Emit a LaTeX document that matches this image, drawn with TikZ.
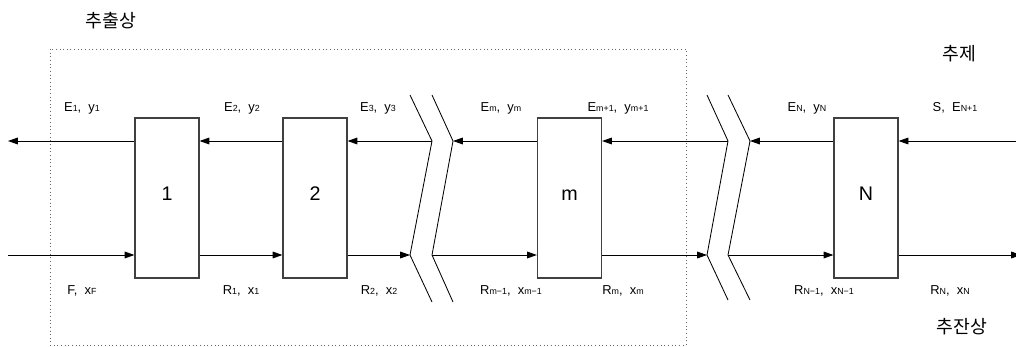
\documentclass[tikz,border=0pt]{standalone}
\usepackage{fontspec}
\setmainfont{Liberation Sans}
\newfontfamily\kr{Noto Sans CJK KR}
\usetikzlibrary{arrows.meta}
\newcommand{\ix}[1]{{\fontsize{6.3}{7}\selectfont #1}}

\begin{document}
\begin{tikzpicture}[x=0.025cm,y=-0.025cm,
    stage/.style={draw=black!75,line width=0.8pt,fill=white,minimum width=1.6cm,minimum height=4cm,inner sep=0pt,
      font=\fontsize{14}{16}\selectfont,text height=10pt,text depth=7pt},
    flow/.style={-{Triangle[length=7pt,width=4.8pt]},line width=0.6pt},
    brk/.style={line width=0.6pt},
    lbl/.style={anchor=base,inner sep=0pt,font=\fontsize{9.2}{11}\selectfont},
    phase/.style={font=\kr\fontsize{13}{15}\selectfont}]
  \useasboundingbox (0,0) rectangle (1016,347);
  \draw[black!60,dotted,line width=0.6pt] (50,49) rectangle (686,345);

  % stages
  \node[stage] (s1) at (167,198) {1};
  \node[stage] (s2) at (315,198) {2};
  \node[stage] (sm) at (569.5,198) {m};
  \node[stage] (sN) at (866,198) {N};

  % stream levels and free ends
  \coordinate (yT) at (0,141);
  \coordinate (yB) at (0,255);
  \coordinate (extr) at (8,141);
  \coordinate (feed) at (8,255);
  \coordinate (solv) at (1016,141);
  \coordinate (raff) at (1021,255);

  % break marks
  \coordinate (a1) at (410,95);  \coordinate (a2) at (432,141);
  \coordinate (a3) at (410,255); \coordinate (a4) at (432,302);
  \coordinate (b1) at (432,95);  \coordinate (b2) at (453,141);
  \coordinate (b3) at (432,255); \coordinate (b4) at (453,302);
  \coordinate (c1) at (707,95);  \coordinate (c2) at (728,141);
  \coordinate (c3) at (707,255); \coordinate (c4) at (728,300);
  \coordinate (d1) at (728,95);  \coordinate (d2) at (750,141);
  \coordinate (d3) at (728,255); \coordinate (d4) at (750,300);
  \draw[brk] (a1) -- (a2) -- (a3) -- (a4);
  \draw[brk] (b1) -- (b2) -- (b3) -- (b4);
  \draw[brk] (c1) -- (c2) -- (c3) -- (c4);
  \draw[brk] (d1) -- (d2) -- (d3) -- (d4);

  % extract phase
  \draw[flow] (s1.west |- yT) -- (extr);
  \draw[flow] (s2.west |- yT) -- (s1.east |- yT);
  \draw[flow] (a2) -- (s2.east |- yT);
  \draw[flow] (sm.west |- yT) -- (b2);
  \draw[flow] (c2) -- (sm.east |- yT);
  \draw[flow] (sN.west |- yT) -- (d2);
  \draw[flow] (solv) -- (sN.east |- yT);

  % raffinate phase
  \draw[flow] (feed) -- (s1.west |- yB);
  \draw[flow] (s1.east |- yB) -- (s2.west |- yB);
  \draw[flow] (s2.east |- yB) -- (a3);
  \draw[flow] (b3) -- (sm.west |- yB);
  \draw[flow] (sm.east |- yB) -- (c3);
  \draw[flow] (d3) -- (sN.west |- yB);
  \draw[flow] (sN.east |- yB) -- (raff);

  % stream labels
  \node[lbl] (e1) at (82,112) {E\ix{1},\ \ y\ix{1}};
  \node[lbl] (e2) at (242,112) {E\ix{2},\ \ y\ix{2}};
  \node[lbl] (e3) at (378,112) {E\ix{3},\ \ y\ix{3}};
  \node[lbl] (em) at (501,112) {E\ix{m},\ \ y\ix{m}};
  \node[lbl] (emp) at (618,112) {E\ix{m+1},\ \ y\ix{m+1}};
  \node[lbl] (eN) at (807,112) {E\ix{N},\ \ y\ix{N}};
  \node[lbl] (eNp) at (955,112) {S,\ \ E\ix{N+1}};
  \node[lbl] (f) at (82,294) {F,\ \ x\ix{F}};
  \node[lbl] (r1) at (241,294) {R\ix{1},\ \ x\ix{1}};
  \node[lbl] (r2) at (379,294) {R\ix{2},\ \ x\ix{2}};
  \node[lbl] (rmm) at (511,294) {R\ix{m−1},\ \ x\ix{m−1}};
  \node[lbl] (rm) at (623,294) {R\ix{m},\ \ x\ix{m}};
  \node[lbl] (rNm) at (824,294) {R\ix{N−1},\ \ x\ix{N−1}};
  \node[lbl] (rN) at (950,294) {R\ix{N},\ \ x\ix{N}};

  % phases
  \node[phase] (ext) at (111,21) {추출상};
  \node[phase] (sol) at (959,54) {추제};
  \node[phase] (raf) at (962,327) {추잔상};
\end{tikzpicture}
\end{document}
